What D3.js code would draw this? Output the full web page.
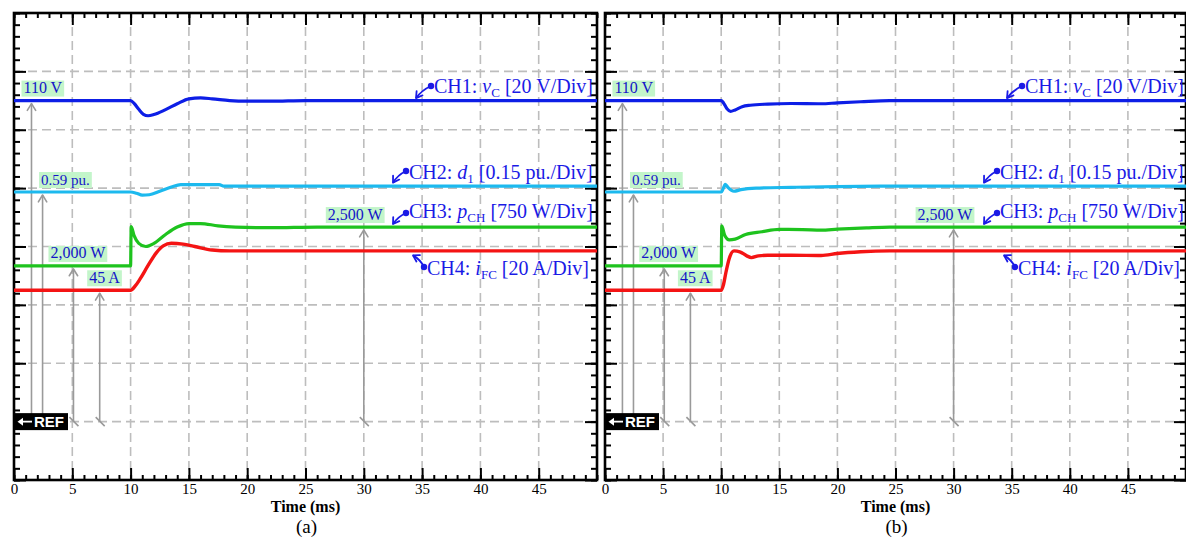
<!DOCTYPE html>
<html>
<head>
<meta charset="utf-8">
<script src="https://cdn.jsdelivr.net/npm/d3@7"></script>
<style>
  body { margin: 0; background: #fff; }
  svg { display: block; }
</style>
</head>
<body>
<svg id="chart" width="1186" height="537"></svg>
<script>
// ---- Time axis (ms) ----
const timeTicks = [0, 5, 10, 15, 20, 25, 30, 35, 40, 45];
const timeDomain = [0, 50];
const panelNames = ["(a)", "(b)"];

// ---- Channel scales (units per division) ----
const voltsPerDiv = 20;    // CH1 vC
const dutyPerDiv = 0.15;   // CH2 d1
const wattsPerDiv = 750;   // CH3 pCH
const ampsPerDiv = 20;     // CH4 iFC

// ---- Traces, [time ms, value] ----
const vC_a = [[0,110],[10,110],[10.3,109.0],[10.7,107.0],[11.1,105.3],[11.5,104.8],[12.0,105.2],[13.0,106.9],[14.0,108.9],[15.0,110.6],[16.0,110.9],[17.0,110.6],[18.5,110.0],[20.0,109.8],[22.0,109.8],[25.0,110.0],[50,110]];
const d1_a  = [[0,0.59],[10,0.59],[10.5,0.587],[11.0,0.582],[11.6,0.583],[12.5,0.592],[13.5,0.603],[14.3,0.609],[16,0.609],[17.6,0.609],[18,0.605],[50,0.605]];
const pCH_a = [[0,2000],[10,2000],[10.05,2505],[10.3,2390],[10.7,2290],[11.3,2250],[12,2290],[13,2405],[14,2500],[15,2545],[16,2545],[17.5,2515],[19,2500],[22,2492],[26,2500],[50,2500]];
const iFC_a = [[0,45],[10,45],[10.4,46.5],[10.8,48.8],[11.5,53.5],[12.2,57.8],[12.8,60.2],[13.5,61.1],[14.5,60.8],[15.5,60.0],[17,58.8],[18.5,58.5],[50,58.5]];

const vC_b  = [[0,110],[10,110],[10.2,109.2],[10.5,107.2],[10.8,106.3],[11.2,106.8],[11.8,107.9],[12.5,108.4],[14,108.8],[16,109.0],[18.6,108.9],[20,109.2],[22,109.6],[24.5,110],[50,110]];
const d1_b  = [[0,0.59],[10,0.59],[10.15,0.597],[10.35,0.61],[10.6,0.601],[11.1,0.592],[11.7,0.596],[13,0.6],[16,0.602],[20,0.604],[25,0.605],[50,0.605]];
const pCH_b = [[0,2000],[10,2000],[10.05,2515],[10.3,2395],[10.7,2335],[11.2,2345],[12.1,2405],[13.5,2440],[15,2470],[17,2468],[18.6,2460],[20,2472],[22.5,2490],[24.5,2500],[50,2500]];
const iFC_b = [[0,45],[10,45],[10.2,47],[10.4,51],[10.7,56],[11.1,58.5],[11.6,58.2],[12.2,56.8],[12.6,56.2],[13.2,56.8],[14,57],[16,57],[18.6,56.9],[20,57.6],[22,58.2],[24.5,58.5],[50,58.5]];

// ---- Cursor readouts ----
const cursorLabels = ["110 V", "0.59 pu.", "2,000 W", "45 A", "2,500 W"];
const cursorValues = [110, 0.59, 2000, 45, 2500];
const cursorChannel = [0, 1, 2, 3, 2];
const cursorTimes = [1.5, 2.45, 5.1, 7.35, 30.0];

// ---- Layout ----
const plotTop = 13, plotBottom = 480;
const divPx = (plotBottom - plotTop) / 8;
const refY = plotBottom - divPx;
const panelX = [[14, 597], [605, 1186]];
const serif = "'Liberation Serif','Times New Roman',serif";
const colors = ["#0d1ee6", "#1cb9ee", "#1ec31e", "#f41414"];
const annBlue = "#1a1ae6";
const labelBlue = "#1414c8";
const gridGrey = "#bdbdbd";
const cursorGrey = "#9a9a9a";
const boxFill = "#c3f5ca";
const boxOffsets = [-10, -3.5, -25, -12.5, -38];
// annotation: dot position (relative to panel left), text baseline, tip x, tip offset from trace
const annLayout = [
  { dot: [417, 86],  base: 93,  tipX: 402, tipDy: -2.5 },
  { dot: [392, 171], base: 179, tipX: 379, tipDy: -3.5 },
  { dot: [392, 213], base: 218, tipX: 379, tipDy: -3 },
  { dot: [410, 267], base: 275, tipX: 399, tipDy: 4.5 }
];
const annText = [
  ["CH1: ", "v", "C", " [20 V/Div]", true],
  ["CH2: ", "d", "1", " [0.15 pu./Div]", false],
  ["CH3: ", "p", "CH", " [750 W/Div]", true],
  ["CH4: ", "i", "FC", " [20 A/Div]", true]
];

const svg = d3.select("#chart");
svg.append("rect").attr("width", 1186).attr("height", 537).attr("fill", "#fff");

const perDiv = [voltsPerDiv, dutyPerDiv, wattsPerDiv, ampsPerDiv];
const traceSets = [[vC_a, d1_a, pCH_a, iFC_a], [vC_b, d1_b, pCH_b, iFC_b]];

function arrowHead(g, tip, from, len, color, width) {
  const dx = tip[0] - from[0], dy = tip[1] - from[1];
  const a = Math.atan2(dy, dx);
  const w = 0.55;
  const p1 = [tip[0] - len * Math.cos(a - w), tip[1] - len * Math.sin(a - w)];
  const p2 = [tip[0] - len * Math.cos(a + w), tip[1] - len * Math.sin(a + w)];
  g.append("path")
    .attr("d", `M${p1}L${tip}L${p2}`)
    .attr("fill", "none").attr("stroke", color).attr("stroke-width", width)
    .attr("stroke-linecap", "round").attr("stroke-linejoin", "round");
}

panelX.forEach((px, pi) => {
  const [x0, x1] = px;
  const g = svg.append("g");
  const x = d3.scaleLinear().domain(timeDomain).range([x0, x1]);
  const yDiv = d3.scaleLinear().domain([0, 8]).range([plotBottom, plotTop]);
  const ys = perDiv.map(p => d3.scaleLinear().domain([0, p]).range([refY, refY - divPx]));

  // dashed grid
  const grid = g.append("g").attr("stroke", gridGrey).attr("stroke-width", 1.6)
    .attr("stroke-dasharray", "9,5").attr("fill", "none");
  timeTicks.filter(t => t > 0).forEach(t => {
    grid.append("line").attr("x1", x(t)).attr("x2", x(t)).attr("y1", plotTop).attr("y2", plotBottom);
  });
  d3.range(1, 8).forEach(k => {
    grid.append("line").attr("x1", x0).attr("x2", x1).attr("y1", yDiv(k)).attr("y2", yDiv(k));
  });

  // frame ticks via axes
  const minorT = d3.range(0, 51, 1);
  const minorY = d3.range(0, 8.01, 0.2);
  const majorY = d3.range(0, 9, 1);
  const tickStyle = sel => { sel.select(".domain").remove(); sel.selectAll(".tick line").attr("stroke", "#000").attr("stroke-width", 2); };

  g.append("g").attr("transform", `translate(0,${plotBottom})`)
    .call(d3.axisBottom(x).tickValues(minorT).tickSize(-5).tickFormat("")).call(tickStyle);
  g.append("g").attr("transform", `translate(0,${plotTop})`)
    .call(d3.axisTop(x).tickValues(minorT).tickSize(-5).tickFormat("")).call(tickStyle);
  g.append("g").attr("transform", `translate(0,${plotTop})`)
    .call(d3.axisTop(x).tickValues(timeTicks).tickSize(-12).tickFormat("")).call(tickStyle);
  const bottomAxis = g.append("g").attr("transform", `translate(0,${plotBottom})`)
    .call(d3.axisBottom(x).tickValues(timeTicks).tickSize(-12).tickPadding(3.5).tickFormat(d3.format("d")))
    .call(tickStyle);
  bottomAxis.selectAll("text").attr("font-family", serif).attr("font-size", 15).attr("fill", "#000");

  g.append("g").attr("transform", `translate(${x0},0)`)
    .call(d3.axisLeft(yDiv).tickValues(minorY).tickSize(-6).tickFormat("")).call(tickStyle);
  g.append("g").attr("transform", `translate(${x0},0)`)
    .call(d3.axisLeft(yDiv).tickValues(majorY).tickSize(-12).tickFormat("")).call(tickStyle);
  g.append("g").attr("transform", `translate(${x1},0)`)
    .call(d3.axisRight(yDiv).tickValues(minorY).tickSize(-6).tickFormat("")).call(tickStyle);
  g.append("g").attr("transform", `translate(${x1},0)`)
    .call(d3.axisRight(yDiv).tickValues(majorY).tickSize(-12).tickFormat("")).call(tickStyle);

  g.append("rect").attr("x", x0).attr("y", plotTop).attr("width", x1 - x0).attr("height", plotBottom - plotTop)
    .attr("fill", "none").attr("stroke", "#000").attr("stroke-width", 2.6);

  // axis titles
  g.append("text").attr("x", (x0 + x1) / 2).attr("y", 512).attr("text-anchor", "middle")
    .attr("font-family", serif).attr("font-weight", "bold").attr("font-size", 16).text("Time (ms)");
  g.append("text").attr("x", (x0 + x1) / 2 + 1).attr("y", 533).attr("text-anchor", "middle")
    .attr("font-family", serif).attr("font-size", 19).text(panelNames[pi]);

  // cursor arrows (drawn under traces)
  const cur = g.append("g");
  cursorTimes.forEach((t, i) => {
    const cx = x(t);
    const ty = ys[cursorChannel[i]](cursorValues[i]) + 3;
    cur.append("line").attr("x1", cx).attr("x2", cx).attr("y1", refY).attr("y2", ty)
      .attr("stroke", cursorGrey).attr("stroke-width", 1.6);
    cur.append("line").attr("x1", cx - 4).attr("y1", refY - 4.5).attr("x2", cx + 5).attr("y2", refY + 4.5)
      .attr("stroke", cursorGrey).attr("stroke-width", 1.6);
    arrowHead(cur, [cx, ty], [cx, ty + 10], 8, cursorGrey, 1.6);
  });

  // traces
  traceSets[pi].forEach((data, ci) => {
    const line = d3.line().x(d => x(d[0])).y(d => ys[ci](d[1])).curve(d3.curveMonotoneX);
    g.append("path").datum(data).attr("d", line)
      .attr("fill", "none").attr("stroke", colors[ci])
      .attr("stroke-width", ci === 3 ? 3.4 : 3.2)
      .attr("stroke-linejoin", "round");
  });

  // cursor readout boxes
  cursorLabels.forEach((lab, i) => {
    const cx = x(cursorTimes[i]);
    const ty = ys[cursorChannel[i]](cursorValues[i]);
    const fs = i === 1 ? 15 : 16;
    const bx = cx + boxOffsets[i];
    const bb = ty - 4;
    const rect = g.append("rect").attr("fill", boxFill);
    const txt = g.append("text").attr("x", bx + 2).attr("y", bb - 3.5)
      .attr("font-family", serif).attr("font-size", fs).attr("fill", labelBlue).text(lab);
    const w = txt.node().getComputedTextLength();
    rect.attr("x", bx).attr("y", bb - 16).attr("width", w + 4).attr("height", 16);
  });

  // REF marker
  const refG = g.append("g");
  refG.append("rect").attr("x", x0).attr("y", refY - 8.5).attr("width", 54).attr("height", 17).attr("fill", "#000");
  refG.append("path").attr("d", `M${x0 + 3.5},${refY}L${x0 + 9},${refY - 4}L${x0 + 9},${refY + 4}Z`).attr("fill", "#fff");
  refG.append("line").attr("x1", x0 + 8).attr("x2", x0 + 18).attr("y1", refY).attr("y2", refY)
    .attr("stroke", "#fff").attr("stroke-width", 1.8);
  refG.append("text").attr("x", x0 + 20).attr("y", refY + 5.5)
    .attr("font-family", "'Liberation Sans',Arial,sans-serif").attr("font-weight", "bold")
    .attr("font-size", 15).attr("fill", "#fff").text("REF");

  // channel annotations
  annLayout.forEach((a, ci) => {
    const dot = [x0 + a.dot[0], a.dot[1]];
    const finalVal = traceSets[pi][ci][traceSets[pi][ci].length - 1][1];
    const tip = [x0 + a.tipX, ys[ci](finalVal) + a.tipDy];
    const mx = (dot[0] + tip[0]) / 2, my = (dot[1] + tip[1]) / 2;
    const dx = tip[0] - dot[0], dy = tip[1] - dot[1];
    const L = Math.hypot(dx, dy);
    const ctrl = [mx - dy / L * 2.5, my + dx / L * 2.5];
    g.append("path").attr("d", `M${dot}Q${ctrl} ${tip}`)
      .attr("fill", "none").attr("stroke", annBlue).attr("stroke-width", 1.8);
    arrowHead(g, tip, ctrl, 7, annBlue, 1.8);
    g.append("circle").attr("cx", dot[0]).attr("cy", dot[1]).attr("r", 3.2).attr("fill", annBlue);

    const [pre, sym, sub, post, subItalic] = annText[ci];
    const t = g.append("text").attr("x", dot[0] + 3).attr("y", a.base)
      .attr("font-family", serif).attr("font-size", 20).attr("fill", annBlue);
    t.append("tspan").text(pre);
    t.append("tspan").attr("font-style", "italic").text(sym);
    t.append("tspan").attr("font-size", 13).attr("dy", 4).text(sub);
    t.append("tspan").attr("dy", -4).text(post);
  });
});
</script>
</body>
</html>
